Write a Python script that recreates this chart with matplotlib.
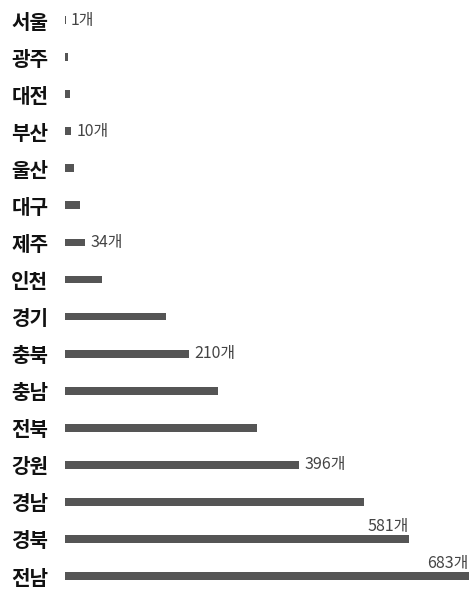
import matplotlib
matplotlib.use("Agg")
import matplotlib.pyplot as plt

plt.rcParams['font.family'] = ['Noto Sans CJK KR', 'DejaVu Sans']

regions = ["서울", "광주", "대전", "부산", "울산", "대구", "제주", "인천",
           "경기", "충북", "충남", "전북", "강원", "경남", "경북", "전남"]
counts = [1, 5, 8, 10, 15, 25, 34, 62, 170, 210, 258, 325, 396, 505, 581, 683]
# value annotations: region -> placement ("right" of bar end, or "above" it)
labelled = {"서울": "right", "부산": "right", "제주": "right", "충북": "right",
            "강원": "right", "경북": "above", "전남": "above"}

W, H = 472, 589
fig = plt.figure(figsize=(W / 100, H / 100), dpi=100)
ax = fig.add_axes([65 / W, 0, 414 / W, 1])

ypos = list(range(len(regions)))
bar_color = "#555555"
ax.barh(ypos, counts, height=0.21, color=bar_color, edgecolor="none")

ax.set_xlim(0, 700)
ax.set_ylim(15.35, -0.54)

ax.set_yticks(ypos)
ax.set_yticklabels(regions, fontsize=14.5, fontweight="bold", color="#111111")
ax.tick_params(axis="y", length=0, pad=12)
ax.set_xticks([])
for s in ax.spines.values():
    s.set_visible(False)

for y, (name, v) in enumerate(zip(regions, counts)):
    if name not in labelled:
        continue
    txt = f"{v}개"
    if labelled[name] == "right":
        ax.text(v + 9, y, txt, ha="left", va="center", fontsize=11.5,
                color="#444444")
    else:
        ax.text(v, y - 0.12, txt, ha="right", va="bottom", fontsize=11.5,
                color="#444444")

fig.savefig("out.png", dpi=100, facecolor="white")
